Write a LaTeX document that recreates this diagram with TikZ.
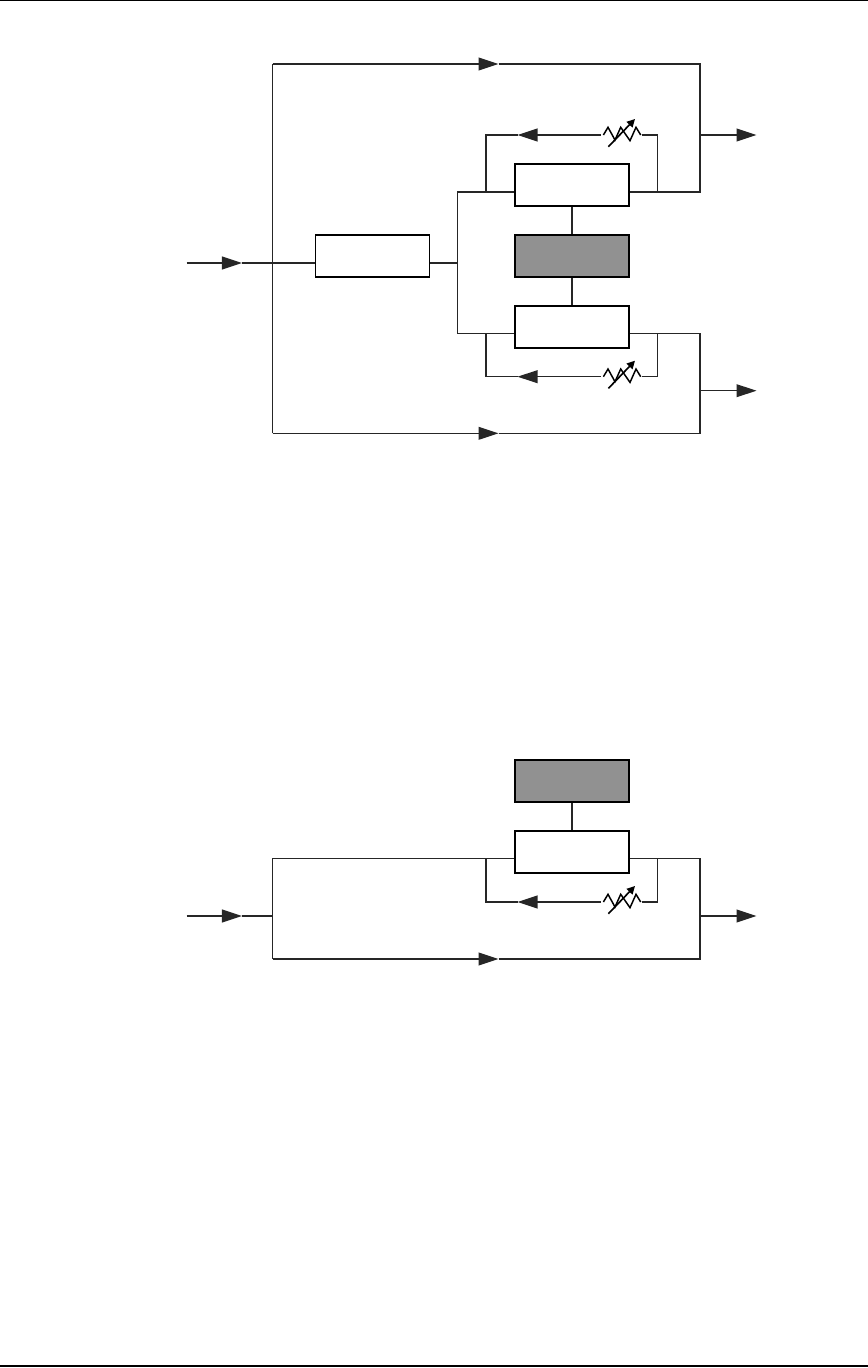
\documentclass[tikz,border=0pt]{standalone}
\usepackage{xcolor}
\usetikzlibrary{arrows.meta, positioning, calc}
\definecolor{boxgray}{gray}{0.57}
\tikzset{
    varres/.pic={
        \node[inner sep=0pt, minimum width=1.03cm, minimum height=0.3cm] (-box) at (0,0) {};
        \draw[line width=1.05pt, line join=miter] (-18,0) -- (-13.4,-7.7) -- (-6.4,5) -- (-0.7,-7.7) -- (8.6,5.7) -- (14.6,-7.7) -- (19.3,0);
        \draw[line width=1.15pt, -{Triangle[length=0.2cm,width=0.2cm]}] (-13,11.7) -- (13.6,-16);
    }
}
\begin{document}
\begin{tikzpicture}[
    x=0.025cm, y=-0.025cm,
    box/.style={draw, line width=1.2pt, minimum width=2.85cm, minimum height=1.06cm, inner sep=0pt},
    sig/.style={line width=1.05pt, color=black!85},
    tip/.style={sig, -{Triangle[length=0.5cm,width=0.32cm]}},
]
    \useasboundingbox (0,0) rectangle (868,1368);
    \coordinate (ruleAl) at (0,0.6);
    \coordinate (ruleAr) at (868,0.6);
    \coordinate (ruleBl) at (0,1366);
    \coordinate (ruleBr) at (868,1366);
    \draw[line width=0.9pt] (ruleAl) -- (ruleAr);
    \draw[line width=1.4pt] (ruleBl) -- (ruleBr);

    % Upper circuit
    \node[box] (amp) at (372.5,256) {};
    \node[box] (pa1) at (572,185) {};
    \node[box, fill=boxgray] (ctl1) at (572,256) {};
    \node[box] (pa2) at (572,327) {};
    \pic (r1) at (621.4,135) {varres};
    \pic (r2) at (621.4,376.7) {varres};

    \coordinate (in1) at (186.7,263);
    \coordinate (in1t) at (242,263);
    \coordinate (w1) at (272.7,263);
    \coordinate (nw) at (272.7,64);
    \coordinate (sw) at (272.7,433.3);
    \coordinate (ne) at (700,64);
    \coordinate (se) at (700,433.3);
    \coordinate (nt) at (498.5,64);
    \coordinate (st) at (498.5,433.3);
    \coordinate (split) at (457.7,263);
    \coordinate (splitn) at (457.7,192);
    \coordinate (splits) at (457.7,333.7);
    \coordinate (e1) at (700,192);
    \coordinate (e2) at (700,333.7);

    % Input and bypass paths
    \draw[tip] (in1) -- (in1t);
    \draw[sig] (in1t) -- (amp.west |- in1t);
    \draw[sig] (sw) -- (nw);
    \draw[tip] (nw) -- (nt);
    \draw[sig] (nt) -- (ne) -- (e1) -- (pa1.east |- e1);
    \draw[tip] (sw) -- (st);
    \draw[sig] (st) -- (se) -- (e2) -- (pa2.east |- e2);

    % Driver split
    \draw[sig] (amp.east |- split) -- (split);
    \draw[sig] (pa1.west |- splitn) -- (splitn) -- (splits) -- (pa2.west |- splits);
    \draw[sig] (pa1) -- (ctl1);
    \draw[sig] (ctl1) -- (pa2);

    % Feedback loops
    \coordinate (f1r) at (657.3,135);
    \coordinate (f1l) at (486,135);
    \coordinate (f1t) at (517.5,135);
    \coordinate (f2r) at (657.3,376.7);
    \coordinate (f2l) at (486,376.7);
    \coordinate (f2t) at (517.5,376.7);
    \coordinate (b1r) at (657.3,192);
    \coordinate (b1l) at (486,192);
    \coordinate (b2r) at (657.3,333.7);
    \coordinate (b2l) at (486,333.7);
    \draw[sig] (b1r) -- (f1r) -- (r1-box.east);
    \draw[tip] (r1-box.west) -- (f1t);
    \draw[sig] (f1t) -- (f1l) -- (b1l);
    \draw[sig] (b2r) -- (f2r) -- (r2-box.east);
    \draw[tip] (r2-box.west) -- (f2t);
    \draw[sig] (f2t) -- (f2l) -- (b2l);

    % Outputs
    \coordinate (o1s) at (700,135);
    \coordinate (o1e) at (756.5,135);
    \coordinate (o2s) at (700,390.7);
    \coordinate (o2e) at (756.5,390.7);
    \draw[tip] (o1s) -- (o1e);
    \draw[tip] (o2s) -- (o2e);

    % Lower circuit
    \node[box, fill=boxgray] (ctl3) at (572,781) {};
    \node[box] (pa3) at (572,852) {};
    \pic (r3) at (621.4,902) {varres};
    \draw[sig] (ctl3) -- (pa3);

    \coordinate (in3) at (186.7,916);
    \coordinate (in3t) at (242,916);
    \coordinate (w3) at (272.7,916);
    \coordinate (nw3) at (272.7,858.7);
    \coordinate (sw3) at (272.7,959);
    \coordinate (ne3) at (700,858.7);
    \coordinate (se3) at (700,959);
    \coordinate (st3) at (498.5,959);
    \draw[tip] (in3) -- (in3t);
    \draw[sig] (in3t) -- (w3);
    \draw[sig] (pa3.west |- nw3) -- (nw3) -- (sw3);
    \draw[tip] (sw3) -- (st3);
    \draw[sig] (st3) -- (se3) -- (ne3) -- (pa3.east |- ne3);

    \coordinate (f3r) at (657.3,902);
    \coordinate (f3l) at (486,902);
    \coordinate (f3t) at (517.5,902);
    \coordinate (b3r) at (657.3,858.7);
    \coordinate (b3l) at (486,858.7);
    \draw[sig] (b3r) -- (f3r) -- (r3-box.east);
    \draw[tip] (r3-box.west) -- (f3t);
    \draw[sig] (f3t) -- (f3l) -- (b3l);

    \coordinate (o3s) at (700,916);
    \coordinate (o3e) at (756.5,916);
    \draw[tip] (o3s) -- (o3e);
\end{tikzpicture}
\end{document}
